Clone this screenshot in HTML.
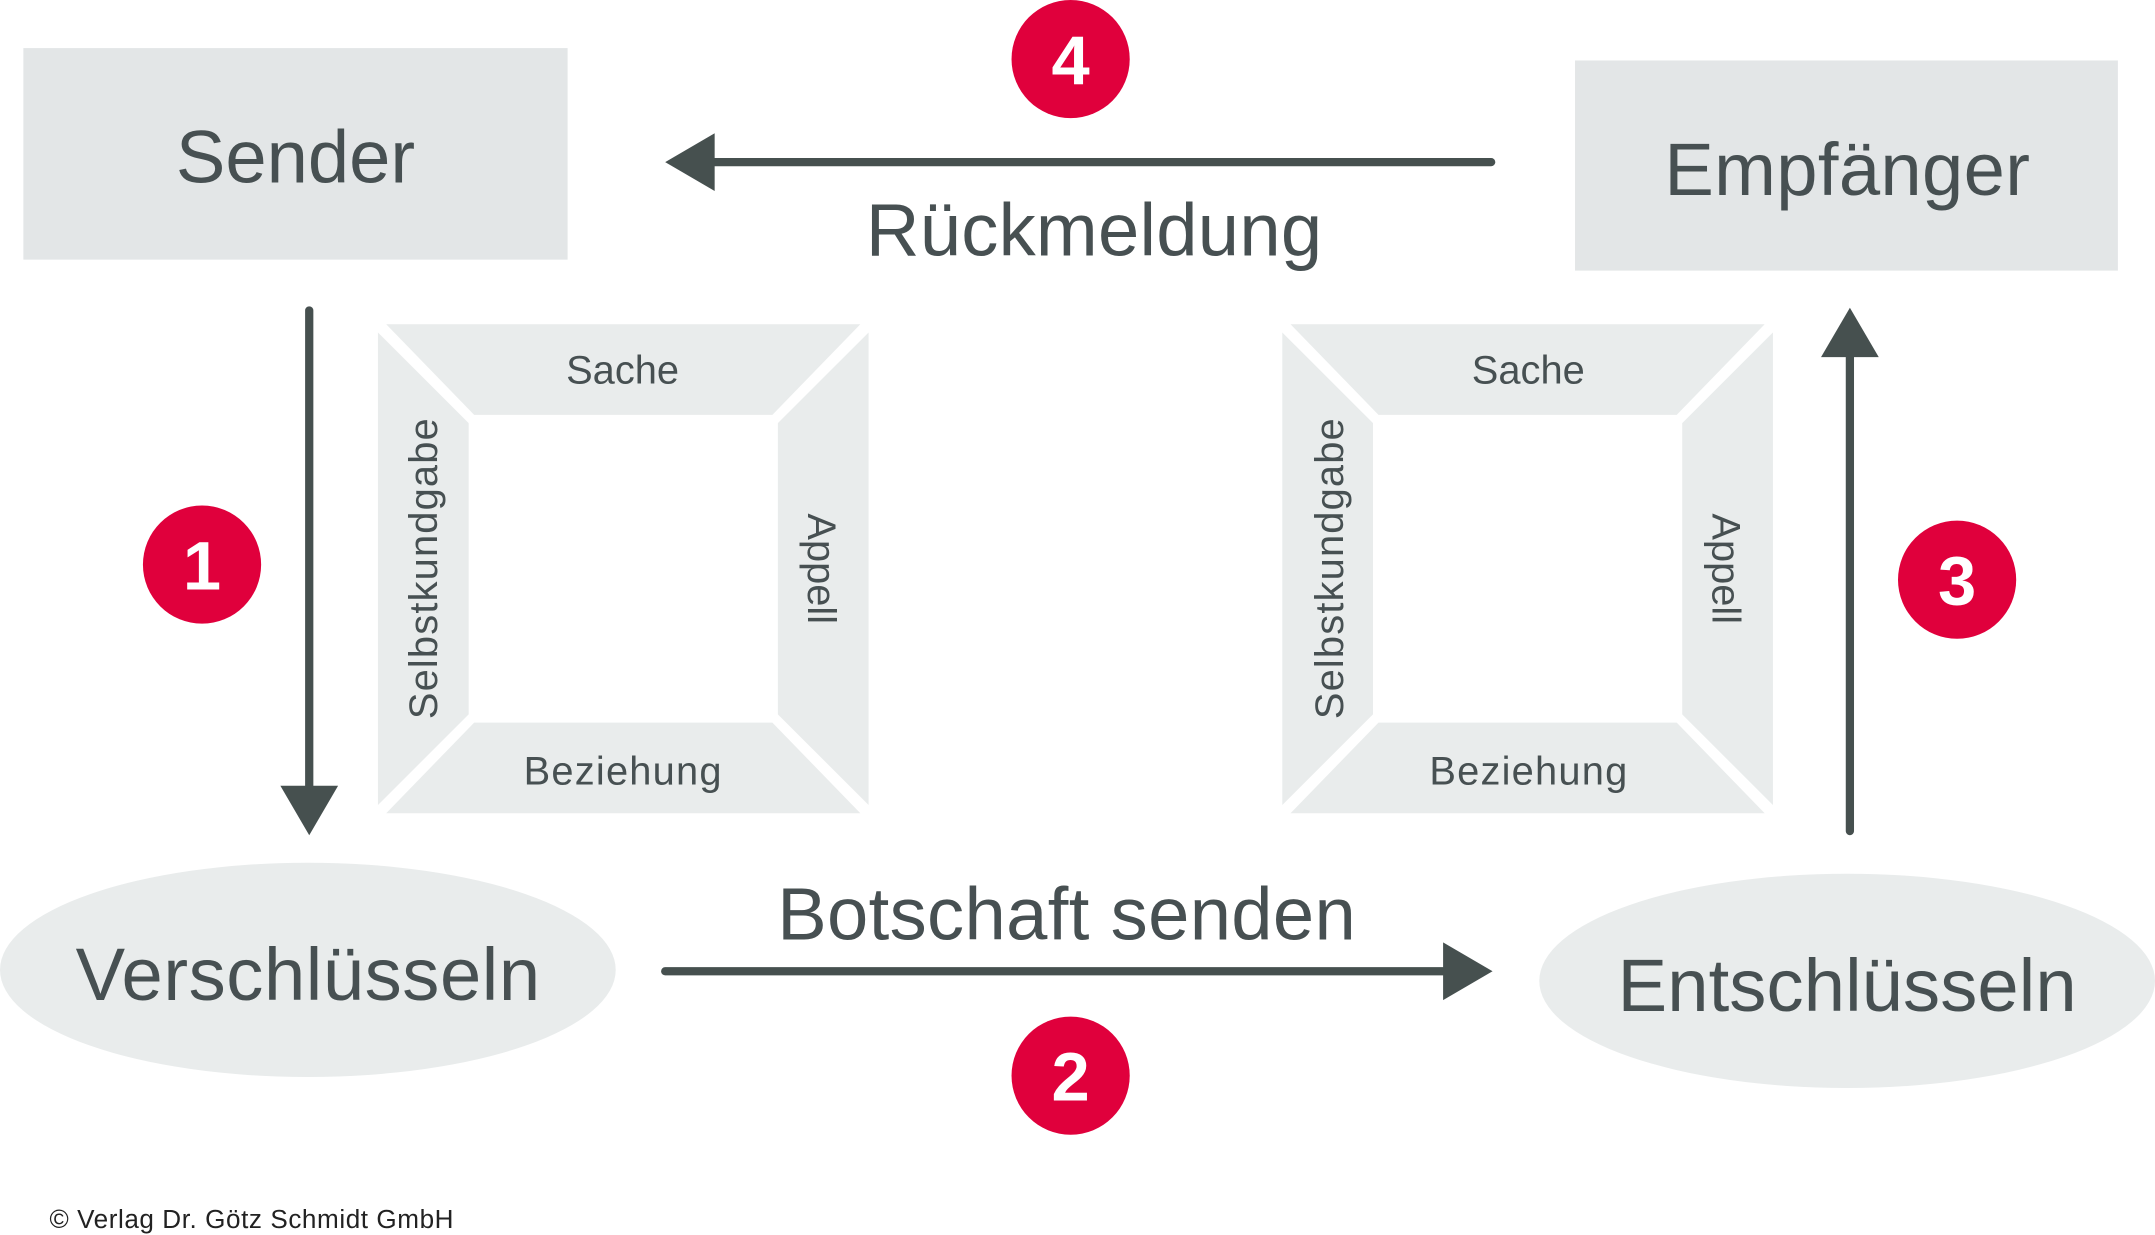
<!DOCTYPE html>
<html><head><meta charset="utf-8"><style>
html,body{margin:0;padding:0;background:#fff;}
svg{display:block;}
text{font-family:"Liberation Sans",Arial,sans-serif;fill:#475052;}
</style></head><body>
<svg width="2155" height="1235" viewBox="0 0 1568 899" preserveAspectRatio="none" xmlns="http://www.w3.org/2000/svg">
<rect x="17" y="35" width="396" height="154" fill="#e3e6e7"/>
<rect x="1146" y="44" width="395" height="153" fill="#e3e6e7"/>
<ellipse cx="224" cy="706" rx="224" ry="78" fill="#e9ecec"/>
<ellipse cx="1344" cy="714" rx="224" ry="78" fill="#e9ecec"/>
<text x="215" y="133" font-size="54" text-anchor="middle">Sender</text>
<text x="1344" y="142" font-size="54" text-anchor="middle" textLength="266">Empfänger</text>
<text x="224" y="728" font-size="54" text-anchor="middle" textLength="338">Verschlüsseln</text>
<text x="1344" y="736" font-size="54" text-anchor="middle" textLength="334">Entschlüsseln</text>
<text x="796" y="186" font-size="54" text-anchor="middle" textLength="332">Rückmeldung</text>
<text x="776" y="684" font-size="54" text-anchor="middle" textLength="421">Botschaft senden</text>
<g fill="#46504f" stroke="none">
<rect x="515" y="115" width="573" height="6" rx="3"/>
<polygon points="484,118 520,97 520,139"/>
<rect x="222" y="223" width="6" height="355" rx="3"/>
<polygon points="225,608 204,572 246,572"/>
<rect x="481" y="704" width="574" height="6" rx="3"/>
<polygon points="1086,707 1050,686 1050,728"/>
<rect x="1343" y="255" width="6" height="353" rx="3"/>
<polygon points="1346,224 1325,260 1367,260"/>
</g>
<g fill="#e9ecec">
<polygon points="281,236 626,236 562,302 345,302"/>
<polygon points="275,242 341,308 341,520 275,586"/>
<polygon points="632,242 566,308 566,520 632,586"/>
<polygon points="281,592 626,592 562,526 345,526"/>
</g>
<g transform="translate(658,0)" fill="#e9ecec">
<polygon points="281,236 626,236 562,302 345,302"/>
<polygon points="275,242 341,308 341,520 275,586"/>
<polygon points="632,242 566,308 566,520 632,586"/>
<polygon points="281,592 626,592 562,526 345,526"/>
</g>
<g font-size="29">
<text x="453" y="279" text-anchor="middle">Sache</text>
<text x="453" y="571" text-anchor="middle" textLength="144">Beziehung</text>
<text transform="translate(318,414) rotate(-90)" text-anchor="middle" textLength="219">Selbstkundgabe</text>
<text transform="translate(588,414) rotate(90)" text-anchor="middle">Appell</text>
<text x="1112" y="279" text-anchor="middle">Sache</text>
<text x="1112" y="571" text-anchor="middle" textLength="144">Beziehung</text>
<text transform="translate(977,414) rotate(-90)" text-anchor="middle" textLength="219">Selbstkundgabe</text>
<text transform="translate(1246,414) rotate(90)" text-anchor="middle">Appell</text>
</g>
<g fill="#e0003c">
<circle cx="779" cy="43" r="43"/>
<circle cx="147" cy="411" r="43"/>
<circle cx="779" cy="783" r="43"/>
<circle cx="1424" cy="422" r="43"/>
</g>
<g font-size="50" font-weight="bold" text-anchor="middle">
<text x="779" y="61" style="fill:#fff">4</text>
<text x="147" y="429" style="fill:#fff">1</text>
<text x="779" y="801" style="fill:#fff">2</text>
<text x="1424" y="440" style="fill:#fff">3</text>
</g>
<text x="36" y="894" font-size="19" textLength="294" style="fill:#222">© Verlag Dr. Götz Schmidt GmbH</text>
</svg>
</body></html>
